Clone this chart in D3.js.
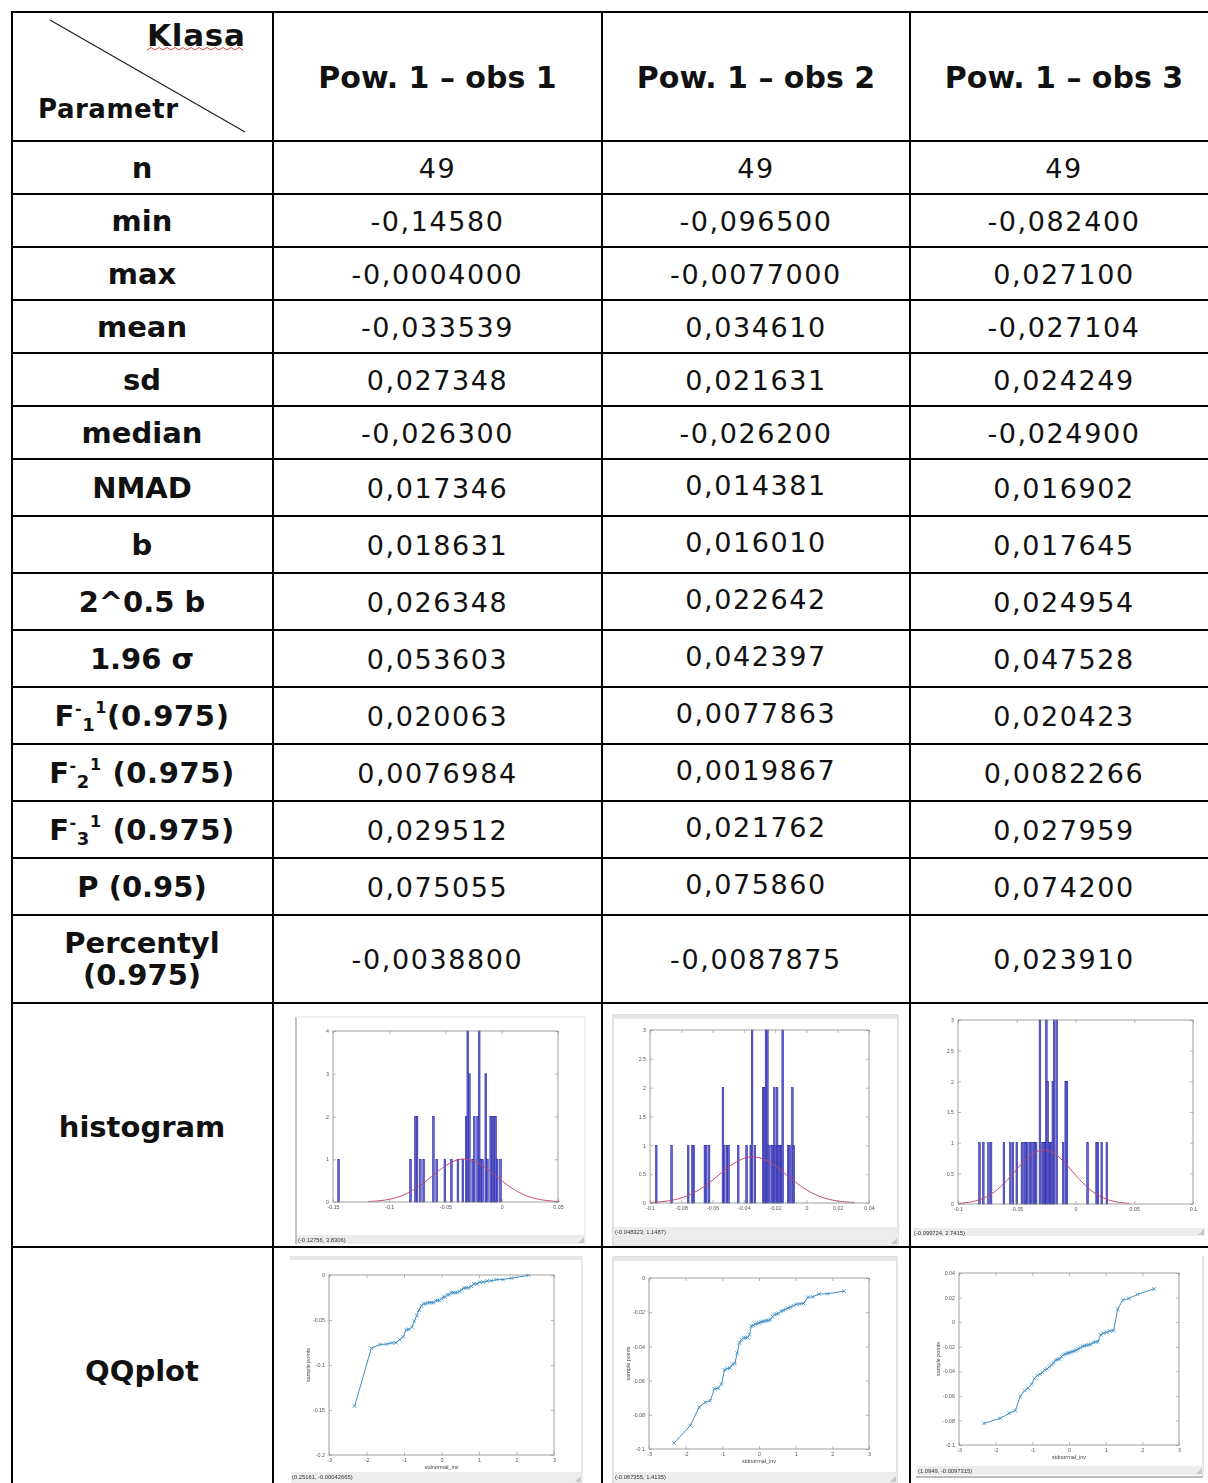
<!DOCTYPE html>
<html>
<head>
<meta charset="utf-8">
<title>Pow. 1 - obs</title>
<script src="https://d3js.org/d3.v7.min.js"></script>
<style>
  body { margin: 0; background: #fff; }
  svg text { font-family: "DejaVu Sans", Verdana, sans-serif; fill: #111; }
  .mini text { font-family: "Liberation Sans", Arial, sans-serif; fill: #444; }
</style>
</head>
<body>
<div class="chart"></div>
<script>
// ---- table data ----
var classes = ["Pow. 1 – obs 1", "Pow. 1 – obs 2", "Pow. 1 – obs 3"];
var params = ["n", "min", "max", "mean", "sd", "median", "NMAD", "b", "2^0.5 b", "1.96 σ",
              "F1", "F2", "F3", "P (0.95)", "Percentyl (0.975)"];
var obs1Values = ["49", "-0,14580", "-0,0004000", "-0,033539", "0,027348", "-0,026300", "0,017346",
                  "0,018631", "0,026348", "0,053603", "0,020063", "0,0076984", "0,029512", "0,075055", "-0,0038800"];
var obs2Values = ["49", "-0,096500", "-0,0077000", "0,034610", "0,021631", "-0,026200", "0,014381",
                  "0,016010", "0,022642", "0,042397", "0,0077863", "0,0019867", "0,021762", "0,075860", "-0,0087875"];
var obs3Values = ["49", "-0,082400", "0,027100", "-0,027104", "0,024249", "-0,024900", "0,016902",
                  "0,017645", "0,024954", "0,047528", "0,020423", "0,0082266", "0,027959", "0,074200", "0,023910"];

var obs1Sample = [-0.1458, -0.0815, -0.0772, -0.0768, -0.0755, -0.0752, -0.0718, -0.0688, -0.0608, -0.0604,
                  -0.0580, -0.0512, -0.0450, -0.0388, -0.0340, -0.0320, -0.0319, -0.0308, -0.0307, -0.0306,
                  -0.0305, -0.0284, -0.0283, -0.0282, -0.0263, -0.0245, -0.0244, -0.0219, -0.0218, -0.0198,
                  -0.0197, -0.0196, -0.0195, -0.0180, -0.0165, -0.0143, -0.0142, -0.0141, -0.0125, -0.0098,
                  -0.0097, -0.0080, -0.0079, -0.0066, -0.0064, -0.0052, -0.0050, -0.0035, -0.0004];
var obs2Sample = [-0.0965, -0.0863, -0.0756, -0.0727, -0.0717, -0.0648, -0.0645, -0.0620, -0.0537, -0.0530,
                  -0.0527, -0.0504, -0.0500, -0.0440, -0.0380, -0.0360, -0.0350, -0.0350, -0.0348, -0.0330,
                  -0.0280, -0.0277, -0.0270, -0.0266, -0.0262, -0.0258, -0.0255, -0.0252, -0.0250, -0.0248,
                  -0.0244, -0.0225, -0.0215, -0.0210, -0.0207, -0.0195, -0.0190, -0.0184, -0.0176, -0.0170,
                  -0.0162, -0.0153, -0.0151, -0.0149, -0.0113, -0.0110, -0.0094, -0.0092, -0.0077];
var obs3Sample = [-0.0824, -0.0783, -0.0742, -0.0720, -0.0606, -0.0557, -0.0538, -0.0506, -0.0457, -0.0435,
                  -0.0424, -0.0408, -0.0389, -0.0380, -0.0364, -0.0348, -0.0332, -0.0308, -0.0304, -0.0300,
                  -0.0280, -0.0266, -0.0258, -0.0253, -0.0249, -0.0245, -0.0239, -0.0234, -0.0226, -0.0217,
                  -0.0207, -0.0198, -0.0193, -0.0188, -0.0185, -0.0180, -0.0166, -0.0162, -0.0159, -0.0103,
                  -0.0090, -0.0082, -0.0071, -0.0070, 0.0106, 0.0180, 0.0193, 0.0226, 0.0271];

// ---- mini-plot axes ----
var histXDomains = [[-0.15, 0.05], [-0.1, 0.04], [-0.1, 0.1]];
var histYDomains = [[0, 4], [0, 3], [0, 3]];
var histXTicks = [[-0.15, -0.1, -0.05, 0, 0.05], [-0.1, -0.08, -0.06, -0.04, -0.02, 0, 0.02, 0.04], [-0.1, -0.05, 0, 0.05, 0.1]];
var histXLabels = [["-0.15", "-0.1", "-0.05", "0", "0.05"], ["-0.1", "-0.08", "-0.06", "-0.04", "-0.02", "0", "0.02", "0.04"], ["-0.1", "-0.05", "0", "0.05", "0.1"]];
var histYTicks = [[0, 1, 2, 3, 4], [0, 0.5, 1, 1.5, 2, 2.5, 3], [0, 0.5, 1, 1.5, 2, 2.5, 3]];
var histYLabels = [["0", "1", "2", "3", "4"], ["0", "0.5", "1", "1.5", "2", "2.5", "3"], ["0", "0.5", "1", "1.5", "2", "2.5", "3"]];
var histStatus = ["(-0.12756, 3.8306)", "(-0.048323, 1.1487)", "(-0.099724, 2.7415)"];

var qqXTicks = [-3, -2, -1, 0, 1, 2, 3];
var qqXLabels = ["-3", "-2", "-1", "0", "1", "2", "3"];
var qqYDomains = [[-0.2, 0], [-0.1, 0], [-0.1, 0.04]];
var qqYTicks = [[-0.2, -0.15, -0.1, -0.05, 0], [-0.1, -0.08, -0.06, -0.04, -0.02, 0], [-0.1, -0.08, -0.06, -0.04, -0.02, 0, 0.02, 0.04]];
var qqYLabels = [["-0.2", "-0.15", "-0.1", "-0.05", "0"], ["-0.1", "-0.08", "-0.06", "-0.04", "-0.02", "0"], ["-0.1", "-0.08", "-0.06", "-0.04", "-0.02", "0", "0.02", "0.04"]];
var qqStatus = ["(0.25161, -0.00042665)", "(-0.067355, 1.4135)", "(1.0949, -0.0097315)"];

var samples = [obs1Sample, obs2Sample, obs3Sample];
var values = [obs1Values, obs2Values, obs3Values];

// ---- layout ----
var W = 1208, H = 1483;
var colX = [12, 273, 602, 910, 1218];
var rowY = [12, 141, 194, 247, 300, 353, 406, 459, 516, 573, 630, 687, 744, 801, 858, 915, 1003, 1247, 1495];

var histLayout = [
  {win: [296, 1017, 585, 1244], ax: [333, 1031, 558, 1202], bar: [1235, 1244], frame: "left"},
  {win: [613, 1015, 898, 1245], ax: [650, 1030, 869, 1203], bar: [1227, 1245], frame: "box"},
  {win: [912, 1018, 1205, 1236], ax: [958, 1020, 1193, 1204], bar: [1228, 1236], frame: "none"}
];
var qqLayout = [
  {win: [290, 1256, 582, 1483], ax: [329, 1275, 554, 1455], bar: [1472, 1483], frame: "top"},
  {win: [613, 1257, 897, 1483], ax: [649, 1278, 869, 1449], bar: [1472, 1483], frame: "box"},
  {win: [916, 1256, 1203, 1476], ax: [959, 1273, 1179, 1445], bar: [1466, 1475], frame: "right"}
];

var svg = d3.select(".chart").append("svg")
  .attr("width", W).attr("height", H);

var defs = svg.append("defs");
defs.append("filter").attr("id", "soft")
  .append("feGaussianBlur").attr("stdDeviation", 0.35);

// ---- table grid ----
var grid = svg.append("g").attr("stroke", "#000").attr("stroke-width", 2);
rowY.slice(0, -1).forEach(function(y) {
  grid.append("line").attr("x1", colX[0]).attr("x2", colX[4] + 10).attr("y1", y).attr("y2", y);
});
colX.forEach(function(x) {
  grid.append("line").attr("x1", x).attr("x2", x).attr("y1", rowY[0] - 1).attr("y2", H + 5);
});

function mid(a, i) { return (a[i] + a[i + 1]) / 2; }

// header corner
svg.append("line").attr("x1", 50).attr("y1", 20).attr("x2", 245).attr("y2", 132)
  .attr("stroke", "#222").attr("stroke-width", 1.3);
svg.append("text").attr("x", 147).attr("y", 46).attr("font-size", 31).attr("font-weight", "bold")
  .attr("textLength", 98).text("Klasa");
svg.append("path")
  .attr("d", d3.line()(d3.range(0, 25).map(function(i) { return [147 + i * 4, i % 2 ? 47.5 : 50]; })))
  .attr("fill", "none").attr("stroke", "#e03030").attr("stroke-width", 0.9);
svg.append("text").attr("x", 38).attr("y", 118).attr("font-size", 26).attr("font-weight", "bold")
  .attr("textLength", 140).text("Parametr");

// class headers
classes.forEach(function(c, i) {
  svg.append("text").attr("x", mid(colX, i + 1)).attr("y", 88)
    .attr("text-anchor", "middle").attr("font-size", 30).attr("font-weight", "bold").text(c);
});

// parameter labels
params.forEach(function(p, r) {
  var cy = mid(rowY, r + 1);
  var t = svg.append("text").attr("x", 142).attr("text-anchor", "middle")
    .attr("font-size", 29).attr("font-weight", "bold");
  if (p === "Percentyl (0.975)") {
    t.attr("y", cy);
    t.append("tspan").attr("x", 142).attr("y", 953).text("Percentyl");
    t.append("tspan").attr("x", 142).attr("y", 985).text("(0.975)");
  } else if (p[0] === "F" && p.length === 2) {
    t.attr("y", cy + 10.5).attr("letter-spacing", 0.6);
    t.append("tspan").text("F");
    t.append("tspan").attr("font-size", 16).attr("dy", -12).text("-");
    t.append("tspan").attr("font-size", 18).attr("dy", 17).text(p[1]);
    t.append("tspan").attr("font-size", 16).attr("dy", -18).text("1");
    t.append("tspan").attr("dy", 13).text(p === "F1" ? "(0.975)" : " (0.975)");
  } else {
    t.attr("y", cy + 10.5).text(p);
  }
});

// values
values.forEach(function(col, c) {
  col.forEach(function(v, r) {
    var cy = mid(rowY, r + 1);
    if (r === 14) cy = 959;
    var shift = (c === 1 && r >= 6 && r <= 13) ? -3 : 0;
    svg.append("text").attr("x", mid(colX, c + 1)).attr("y", cy + 10 + shift)
      .attr("text-anchor", "middle").attr("font-size", 27).attr("letter-spacing", 1.6).text(v);
  });
});

// labels for the plot rows
svg.append("text").attr("x", 142).attr("y", mid(rowY, 16) + 12).attr("text-anchor", "middle")
  .attr("font-size", 29).attr("font-weight", "bold").text("histogram");
svg.append("text").attr("x", 142).attr("y", 1381).attr("text-anchor", "middle")
  .attr("font-size", 29).attr("font-weight", "bold").text("QQplot");

// ---- helpers for the mini plots ----
function normInv(p) {
  var a = [-39.69683028665376, 220.9460984245205, -275.9285104469687, 138.3577518672690, -30.66479806614716, 2.506628277459239];
  var b = [-54.47609879822406, 161.5858368580409, -155.6989798598866, 66.80131188771972, -13.28068155288572];
  var c = [-0.007784894002430293, -0.3223964580411365, -2.400758277161838, -2.549732539343734, 4.374664141464968, 2.938163982698783];
  var d = [0.007784695709041462, 0.3224671290700398, 2.445134137142996, 3.754408661907416];
  var pl = 0.02425, q, r;
  if (p < pl) {
    q = Math.sqrt(-2 * Math.log(p));
    return (((((c[0] * q + c[1]) * q + c[2]) * q + c[3]) * q + c[4]) * q + c[5]) / ((((d[0] * q + d[1]) * q + d[2]) * q + d[3]) * q + 1);
  }
  if (p > 1 - pl) {
    q = Math.sqrt(-2 * Math.log(1 - p));
    return -(((((c[0] * q + c[1]) * q + c[2]) * q + c[3]) * q + c[4]) * q + c[5]) / ((((d[0] * q + d[1]) * q + d[2]) * q + d[3]) * q + 1);
  }
  q = p - 0.5; r = q * q;
  return (((((a[0] * r + a[1]) * r + a[2]) * r + a[3]) * r + a[4]) * r + a[5]) * q / (((((b[0] * r + b[1]) * r + b[2]) * r + b[3]) * r + b[4]) * r + 1);
}

function drawFrame(g, L, status) {
  var w = L.win;
  g.append("rect").attr("x", w[0]).attr("y", w[1]).attr("width", w[2] - w[0]).attr("height", w[3] - w[1])
    .attr("fill", "#fff");
  if (L.frame === "box") {
    g.append("rect").attr("x", w[0]).attr("y", w[1]).attr("width", w[2] - w[0]).attr("height", w[3] - w[1])
      .attr("fill", "none").attr("stroke", "#c4c4c4").attr("stroke-width", 1);
  } else if (L.frame === "left") {
    g.append("line").attr("x1", w[0]).attr("x2", w[0]).attr("y1", w[1]).attr("y2", w[3]).attr("stroke", "#888");
    g.append("line").attr("x1", w[0]).attr("x2", w[2]).attr("y1", w[1]).attr("y2", w[1]).attr("stroke", "#e2e2e2");
    g.append("line").attr("x1", w[2]).attr("x2", w[2]).attr("y1", w[1]).attr("y2", w[3]).attr("stroke", "#e2e2e2");
  } else if (L.frame === "top") {
    g.append("line").attr("x1", w[2]).attr("x2", w[2]).attr("y1", w[1]).attr("y2", w[3]).attr("stroke", "#d8d8d8");
  } else if (L.frame === "right") {
    g.append("line").attr("x1", w[2]).attr("x2", w[2]).attr("y1", w[1]).attr("y2", w[3]).attr("stroke", "#c8c8c8");
    g.append("line").attr("x1", w[0]).attr("x2", w[2]).attr("y1", w[3] + 1).attr("y2", w[3] + 1).attr("stroke", "#bbb").attr("stroke-width", 2);
  }
  if (L.frame === "box" || L.frame === "top") {
    g.append("rect").attr("x", w[0]).attr("y", w[1]).attr("width", w[2] - w[0]).attr("height", 4).attr("fill", "#e6e6e6");
  }
  g.append("rect").attr("x", w[0] + 1).attr("y", L.bar[0]).attr("width", w[2] - w[0] - 1).attr("height", L.bar[1] - L.bar[0])
    .attr("fill", "#ececec");
  g.append("text").attr("x", w[0] + 2).attr("y", L.bar[0] + Math.min(7, (L.bar[1] - L.bar[0]) - 1.5))
    .attr("font-size", 5.8).style("fill", "#333").text(status);
  // resize grip
  g.append("path").attr("d", "M" + (w[2] - 1) + "," + (L.bar[1] - 7) + "L" + (w[2] - 1) + "," + (L.bar[1] - 1) + "L" + (w[2] - 7) + "," + (L.bar[1] - 1) + "Z")
    .attr("fill", "#c8c8c8");
}

function drawAxes(g, L, x, y, xt, xl, yt, yl) {
  var l = L.ax[0], t = L.ax[1], r = L.ax[2], b = L.ax[3];
  g.append("g").attr("transform", "translate(0," + b + ")")
    .call(d3.axisBottom(x).tickValues(xt).tickFormat(function(d, i) { return xl[i]; })
      .tickSizeInner(-3).tickSizeOuter(0).tickPadding(3));
  g.append("g").attr("transform", "translate(0," + t + ")")
    .call(d3.axisTop(x).tickValues(xt).tickFormat(function() { return ""; }).tickSizeInner(-3).tickSizeOuter(0));
  g.append("g").attr("transform", "translate(" + l + ",0)")
    .call(d3.axisLeft(y).tickValues(yt).tickFormat(function(d, i) { return yl[i]; })
      .tickSizeInner(-3).tickSizeOuter(0).tickPadding(4));
  g.append("g").attr("transform", "translate(" + r + ",0)")
    .call(d3.axisRight(y).tickValues(yt).tickFormat(function() { return ""; }).tickSizeInner(-3).tickSizeOuter(0));
  g.selectAll(".domain").remove();
  g.selectAll(".tick line").attr("stroke", "#8a8a8a").attr("stroke-width", 0.6);
  g.selectAll(".tick text").attr("font-size", 5.3).attr("font-family", null).style("fill", "#555");
  g.append("rect").attr("x", l).attr("y", t).attr("width", r - l).attr("height", b - t)
    .attr("fill", "none").attr("stroke", "#8a8a8a").attr("stroke-width", 0.8);
}

// ---- histograms ----
samples.forEach(function(s, i) {
  var L = histLayout[i];
  var g = svg.append("g").attr("class", "mini").attr("filter", "url(#soft)");
  drawFrame(g, L, histStatus[i]);

  var x = d3.scaleLinear().domain(histXDomains[i]).range([L.ax[0], L.ax[2]]);
  var y = d3.scaleLinear().domain(histYDomains[i]).range([L.ax[3], L.ax[1]]);

  var lo = d3.min(s), hi = d3.max(s), nb = 100, bw = (hi - lo) / nb;
  var bins = d3.bin().domain([lo, hi])
    .thresholds(d3.range(1, nb).map(function(k) { return lo + k * bw; }))(s)
    .filter(function(b) { return b.length > 0; });

  g.selectAll("rect.bar").data(bins).enter().append("rect").attr("class", "bar")
    .attr("x", function(b) { return x(b.x0); })
    .attr("width", function(b) { return Math.max(1.6, x(b.x1) - x(b.x0)); })
    .attr("y", function(b) { return y(b.length); })
    .attr("height", function(b) { return y(0) - y(b.length); })
    .attr("fill", "#6464dc").attr("stroke", "#2c2c9c").attr("stroke-width", 0.6);

  // normal fit
  var m = d3.mean(s), sd = d3.deviation(s);
  var xs = d3.range(0, 101).map(function(k) { return m - 3 * sd + k * 6 * sd / 100; });
  g.append("path")
    .attr("d", d3.line()
      .x(function(v) { return x(v); })
      .y(function(v) { return y(s.length * bw * Math.exp(-0.5 * Math.pow((v - m) / sd, 2)) / (sd * Math.sqrt(2 * Math.PI))); })(xs))
    .attr("fill", "none").attr("stroke", "#c4466c").attr("stroke-width", 1);

  drawAxes(g, L, x, y, histXTicks[i], histXLabels[i], histYTicks[i], histYLabels[i]);
});

// ---- QQ plots ----
samples.forEach(function(s, i) {
  var L = qqLayout[i];
  var g = svg.append("g").attr("class", "mini").attr("filter", "url(#soft)");
  drawFrame(g, L, qqStatus[i]);

  var x = d3.scaleLinear().domain([-3, 3]).range([L.ax[0], L.ax[2]]);
  var y = d3.scaleLinear().domain(qqYDomains[i]).range([L.ax[3], L.ax[1]]);
  var pts = s.map(function(v, k) { return [normInv((k + 0.5) / s.length), v]; });

  g.append("path")
    .attr("d", d3.line().x(function(p) { return x(p[0]); }).y(function(p) { return y(p[1]); })(pts))
    .attr("fill", "none").attr("stroke", "#3d8ec6").attr("stroke-width", 1);
  g.selectAll("path.mk").data(pts).enter().append("path").attr("class", "mk")
    .attr("d", function(p) {
      var cx = x(p[0]), cy = y(p[1]), r = 1.8;
      return "M" + (cx - r) + "," + (cy - r) + "L" + (cx + r) + "," + (cy + r) +
             "M" + (cx - r) + "," + (cy + r) + "L" + (cx + r) + "," + (cy - r);
    })
    .attr("stroke", "#3d8ec6").attr("stroke-width", 0.8);

  drawAxes(g, L, x, y, qqXTicks, qqXLabels, qqYTicks[i], qqYLabels[i]);

  g.append("text").attr("x", (L.ax[0] + L.ax[2]) / 2).attr("y", L.ax[3] + 14)
    .attr("text-anchor", "middle").attr("font-size", 5.5).style("fill", "#444").text("stdnormal_inv");
  g.append("text").attr("transform", "translate(" + (L.ax[0] - 19) + "," + ((L.ax[1] + L.ax[3]) / 2) + ") rotate(-90)")
    .attr("text-anchor", "middle").attr("font-size", 5.5).style("fill", "#444").text("sample points");
});
</script>
</body>
</html>
